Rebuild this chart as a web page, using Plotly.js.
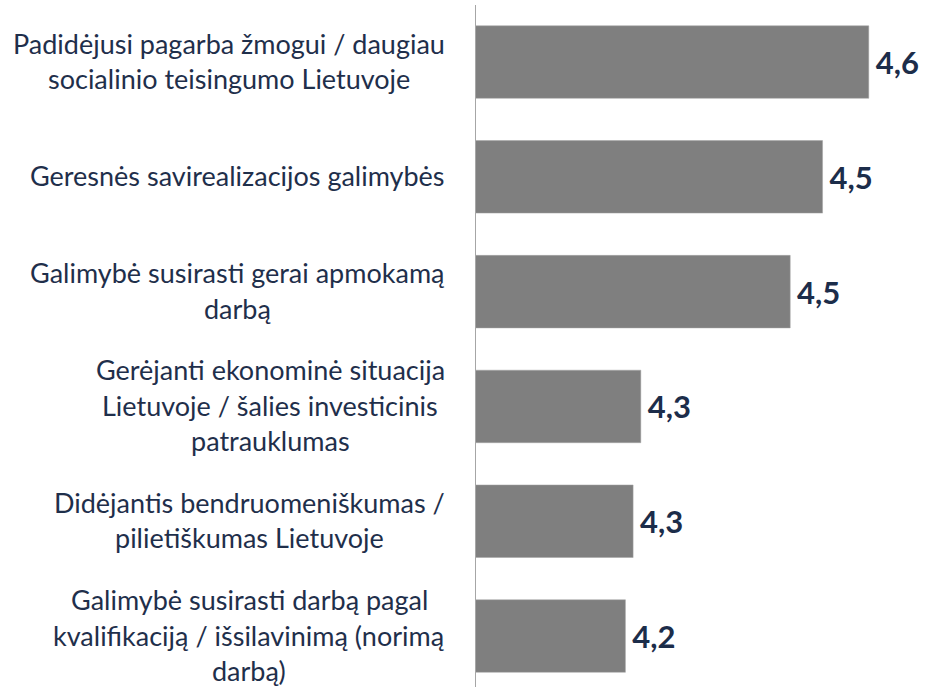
<!DOCTYPE html>
<html>
<head>
<meta charset="utf-8">
<script src="https://cdn.plot.ly/plotly-3.0.1.min.js"></script>
<style>html,body{margin:0;padding:0;background:#fff;}#chart{width:935px;height:687px;}</style>
</head>
<body>
<div id="chart"></div>
<script>
// Categories (top to bottom); <br> marks the line breaks of the labels
const categories = [
  "Padidėjusi pagarba žmogui / daugiau<br>socialinio teisingumo Lietuvoje",
  "Geresnės savirealizacijos galimybės",
  "Galimybė susirasti gerai apmokamą<br>darbą",
  "Gerėjanti ekonominė situacija<br>Lietuvoje / šalies investicinis<br>patrauklumas",
  "Didėjantis bendruomeniškumas /<br>pilietiškumas Lietuvoje",
  "Galimybė susirasti darbą pagal<br>kvalifikaciją / išsilavinimą (norimą<br>darbą)"
];
// Mean scores
const values = [4.56, 4.50, 4.458, 4.264, 4.254, 4.244];

const labelColor = "#1f2f4b";
const lineStep = 35.5;
const labelFont = {family: "Lato, 'Open Sans', sans-serif", size: 27, color: labelColor};

const annotations = [];
categories.forEach((cat, i) => {
  const lines = cat.split("<br>");
  const n = lines.length;
  lines.forEach((ln, j) => {
    annotations.push({
      xref: "paper", yref: "y", x: 0, y: i,
      xanchor: "right", yanchor: "middle", align: "center",
      xshift: -29, yshift: ((n - 1) / 2 - j) * lineStep + 1,
      text: ln, showarrow: false, font: labelFont
    });
  });
});
const trace = {
  type: "bar", orientation: "h",
  y: categories.map((c, i) => i),
  x: values,
  marker: {color: "#7f7f7f", line: {color: "#a5a5a5", width: 0.5}},
  texttemplate: "\u2009%{x:.1f}",
  textposition: "outside",
  textfont: {family: "Lato, 'Open Sans', sans-serif", size: 31, color: "#1c2d4a", weight: "bold"},
  cliponaxis: false,
  hoverinfo: "skip"
};
const layout = {
  width: 935, height: 687,
  margin: {l: 476, r: 0, t: 5, b: 0},
  separators: ",.",
  paper_bgcolor: "#fff", plot_bgcolor: "#fff",
  bargap: 0.368,
  showlegend: false,
  xaxis: {range: [4.05, 4.646], showgrid: false, zeroline: false, showticklabels: false, ticks: "", showline: false, fixedrange: true},
  yaxis: {range: [5.444, -0.497], showgrid: false, zeroline: false, showticklabels: false, ticks: "",
          showline: true, linecolor: "#a6a6a6", linewidth: 1, fixedrange: true},
  annotations: annotations
};
Plotly.newPlot("chart", [trace], layout, {displayModeBar: false, staticPlot: true}).then(() => {
  // center the lines of each label block on the widest line (right edge fixed)
  const gd = document.getElementById("chart");
  const nodes = gd.querySelectorAll(".annotation");
  let k = 0;
  const newAnn = gd.layout.annotations.map(a => Object.assign({}, a));
  categories.forEach((cat) => {
    const n = cat.split("<br>").length;
    const widths = [];
    for (let j = 0; j < n; j++) {
      widths.push(nodes[k + j].querySelector("text").getBBox().width);
    }
    const maxW = Math.max(...widths);
    for (let j = 0; j < n; j++) {
      newAnn[k + j].xshift = -29 - (maxW - widths[j]) / 2;
    }
    k += n;
  });
  return Plotly.relayout(gd, {annotations: newAnn});
});
</script>
</body>
</html>
